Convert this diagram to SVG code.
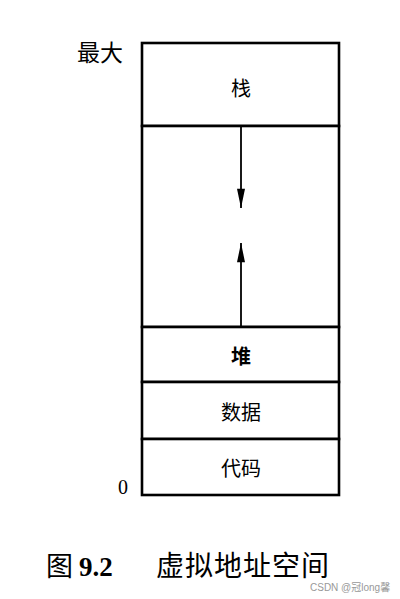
<svg xmlns="http://www.w3.org/2000/svg" width="400" height="599" viewBox="0 0 400 599">
<style>
.box{fill:#fff;stroke:#000;stroke-width:2.6}
.lbl{font-family:"Noto Sans CJK SC","Noto Sans",sans-serif;font-size:20px;fill:#000;text-anchor:middle;dominant-baseline:central}
.side{font-family:"Noto Sans CJK SC","Noto Sans",sans-serif;font-size:23px;fill:#000}
.conn{stroke:#000;stroke-width:1.8;fill:none}
</style>
<defs>
<marker id="ah" viewBox="0 0 24 10" refX="24" refY="5" markerWidth="24" markerHeight="8" markerUnits="userSpaceOnUse" orient="auto">
<path d="M0,0 L24,5 L0,10 Z" fill="#000"/>
</marker>
</defs>
<rect width="400" height="599" fill="#fff"/>
<g id="stack"><rect class="box" x="142" y="43" width="197" height="83"/><text class="lbl" x="241" y="87">栈</text></g>
<g id="free"><rect class="box" x="142" y="126" width="197" height="201"/></g>
<g id="heap"><rect class="box" x="142" y="327" width="197" height="55"/><text class="lbl" x="241" y="355" font-weight="bold">堆</text></g>
<g id="data"><rect class="box" x="142" y="382" width="197" height="57"/><text class="lbl" x="241" y="411">数据</text></g>
<g id="code"><rect class="box" x="142" y="439" width="197" height="56"/><text class="lbl" x="241" y="467">代码</text></g>
<g id="connectors">
<line class="conn" x1="241" y1="127" x2="241" y2="208" marker-end="url(#ah)"/>
<line class="conn" x1="241" y1="326" x2="241" y2="243" marker-end="url(#ah)"/>
</g>
<text class="side" x="77" y="61">最大</text>
<text x="118" y="494" font-family="Liberation Serif,serif" font-size="20" fill="#000">0</text>
<text x="46" y="576" font-family="'Noto Sans CJK SC',sans-serif" font-size="27" fill="#000">图 <tspan font-family="Liberation Serif,serif" font-weight="bold">9.2</tspan></text>
<text x="156" y="576" font-family="'Noto Sans CJK SC',sans-serif" font-size="28" letter-spacing="1" fill="#000">虚拟地址空间</text>
<text x="310" y="591" font-family="'Liberation Sans','Noto Sans CJK SC',sans-serif" font-size="10" fill="#999">CSDN @冠long馨</text>
</svg>
